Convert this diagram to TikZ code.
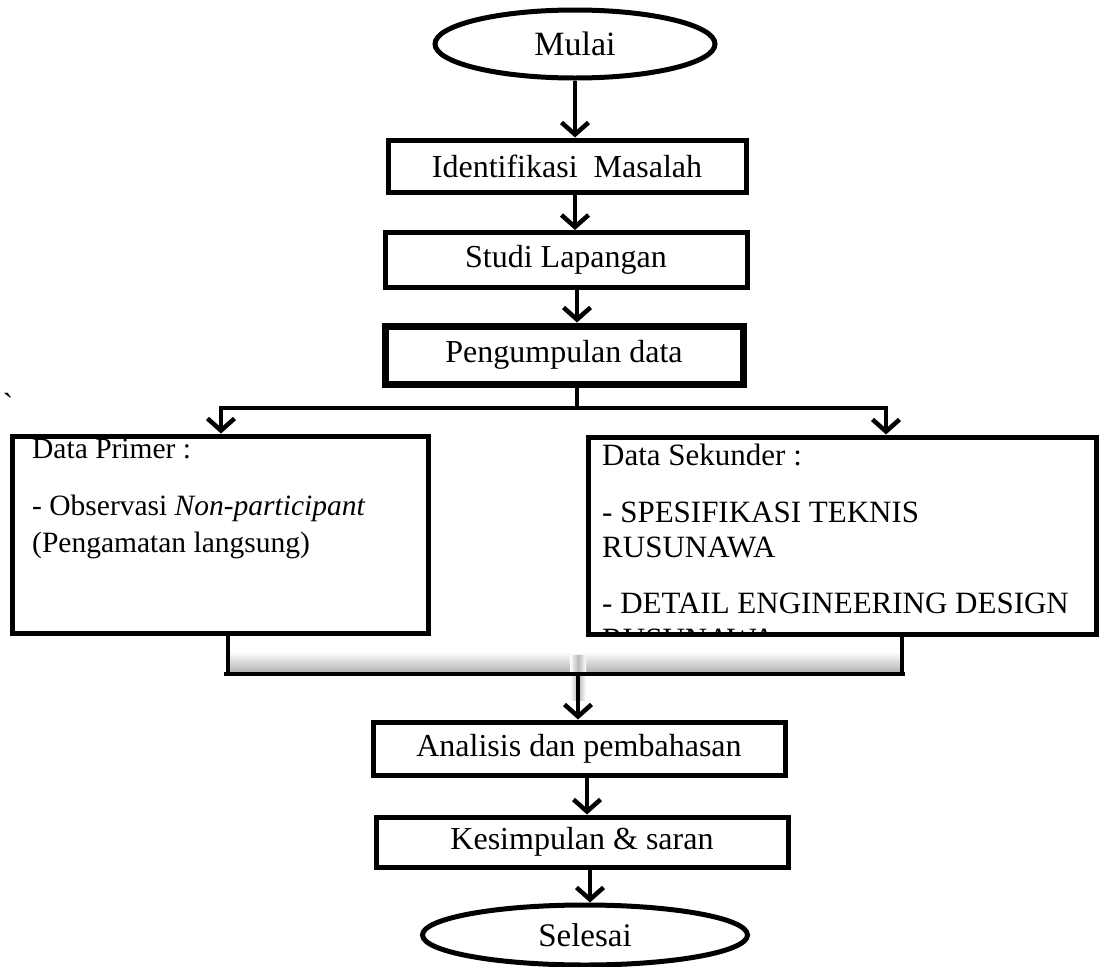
\documentclass[tikz,border=0pt]{standalone}
\usepackage{fontspec}
\setmainfont{Liberation Serif}
\usetikzlibrary{arrows.meta,shapes.geometric}
\begin{document}
\begin{tikzpicture}[x=1pt,y=-1pt,
  every node/.style={font=\fontsize{32}{38}\selectfont},
  stepbox/.style={draw,line width=5pt,rectangle,inner sep=0pt},
  term/.style={draw,line width=5pt,ellipse,inner sep=0pt},
  txt/.style={anchor=base west,inner sep=0pt},
  arr/.style={line width=4.5pt,-{Straight Barb[length=12pt,width=27pt]}},
  conn/.style={line width=4.5pt}
]
\useasboundingbox (0,0) rectangle (1101,967);

% nodes
\node[term,minimum width=280pt,minimum height=68pt,font=\fontsize{34}{40}\selectfont] (mulai) at (575,44) {Mulai};
\node[stepbox,minimum width=358pt,minimum height=52pt] (ident) at (567,166) {Identifikasi\ \ Masalah};
\node[stepbox,minimum width=362pt,minimum height=55pt] (studi) at (566,260) {Studi Lapangan};
\node[stepbox,line width=7pt,minimum width=358pt,minimum height=58pt] (peng) at (564,355) {Pengumpulan data};
\node[stepbox,minimum width=416pt,minimum height=197pt] (primer) at (220,534.5) {};
\node[stepbox,minimum width=508pt,minimum height=197pt] (sek) at (842,535.5) {};
\node[stepbox,minimum width=412pt,minimum height=53pt] (anal) at (579,748.5) {Analisis dan pembahasan};
\node[stepbox,minimum width=412pt,minimum height=50pt] (kes) at (582,842) {Kesimpulan \& saran};
\node[term,minimum width=325pt,minimum height=60pt,font=\fontsize{33}{39}\selectfont] (selesai) at (585,935) {Selesai};

% box texts
\begin{scope}[every node/.style={font=\fontsize{29.5}{36}\selectfont}]
\node[txt] (p1) at (32,458) {Data Primer :};
\node[txt] (p2) at (32,515) {- Observasi \textit{Non-participant}};
\node[txt] (p3) at (32,552) {(Pengamatan langsung)};
\end{scope}
\begin{scope}[every node/.style={font=\fontsize{31}{37}\selectfont}]
\node[txt] (s1) at (602,465) {Data Sekunder :};
\node[txt] (s2) at (602,522) {- SPESIFIKASI TEKNIS};
\node[txt] (s3) at (602,557) {RUSUNAWA};
\node[txt] (s4) at (602,613) {- DETAIL ENGINEERING DESIGN};
\clip ([xshift=3pt,yshift=-3pt]sek.north west) rectangle ([xshift=-3pt,yshift=3pt]sek.south east);
\node[txt] (s5) at (602,649) {RUSUNAWA};
\end{scope}

\node[inner sep=0pt] (tick) at (8,404) {\textasciigrave};

% coordinates for split and merge
\coordinate (split) at (577,408);
\coordinate (sL) at (221,408);
\coordinate (sR) at (886,408);
\coordinate (mL) at (228,674);
\coordinate (mR) at (902,674);
\coordinate (merge) at (578,674);

% connectors
\draw[arr] (mulai.south) -- (mulai.south |- ident.north);
\draw[arr] (575,192) -- (575,192 |- studi.north);
\draw[arr] (577,288) -- (577,288 |- peng.north);
\draw[conn] (peng.south -| split) -- (split);
\draw[conn] ([xshift=-2pt]sL) -- ([xshift=2pt]sR);
\draw[arr] (sL) -- (sL |- primer.north);
\draw[arr] (sR) -- (sR |- sek.north);

% merge (with soft shadow)
\shade[top color=white,bottom color=black!28] (230,652) rectangle (900,671);
\shade[left color=white,right color=white,middle color=black!28] (570,655) rectangle (586,700);
\draw[conn] (mL |- primer.south) -- (mL);
\draw[conn] (mR |- sek.south) -- (mR);
\draw[conn] ([xshift=-4pt]mL) -- ([xshift=3pt]mR);
\draw[arr] (merge) -- (merge |- anal.north);
\draw[arr] (587,775) -- (587,775 |- kes.north);
\draw[arr] (590,867) -- (590,867 |- selesai.north);
\end{tikzpicture}
\end{document}
